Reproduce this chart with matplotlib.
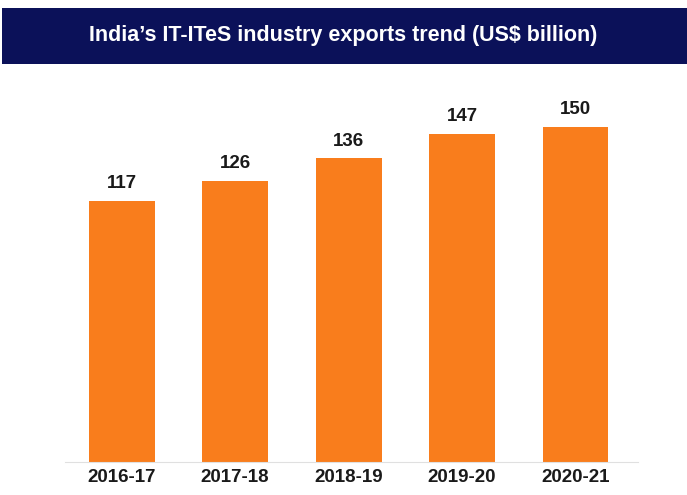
import matplotlib.pyplot as plt
from matplotlib.patches import Rectangle

years = ['2016-17', '2017-18', '2018-19', '2019-20', '2020-21']
exports = [117, 126, 136, 147, 150]

fig = plt.figure(figsize=(6.87, 4.95), dpi=100)
ax = fig.add_axes([0.0946, 0.0667, 0.834, 0.771])

# title band
fig.patches.append(Rectangle((0.003, 0.871), 0.997, 0.113, transform=fig.transFigure,
                             facecolor='#0b1159', edgecolor='none', zorder=0))
fig.text(0.5, 0.928, "India\u2019s IT-ITeS industry exports trend (US$ billion)",
         ha='center', va='center', color='white', fontsize=15.5,
         fontweight='bold', family='Liberation Sans')

x = range(len(years))
ax.bar(x, exports, width=0.58, color='#f97d1c')
for i, v in enumerate(exports):
    ax.text(i, v + 4, str(v), ha='center', va='bottom', fontsize=13.5,
            fontweight='bold', color='#1a1a1a', family='Liberation Sans')

ax.set_xlim(-0.5, 4.55)
ax.set_ylim(0, 171)
ax.set_xticks(list(x))
ax.set_xticklabels(years, fontsize=13.5, fontweight='bold', color='#1a1a1a',
                   family='Liberation Sans')
ax.tick_params(axis='x', length=0, pad=5)
ax.set_yticks([])
for s in ['top', 'right', 'left']:
    ax.spines[s].set_visible(False)
ax.spines['bottom'].set_color('#e0e0e0')

fig.savefig('out.png', dpi=100)
